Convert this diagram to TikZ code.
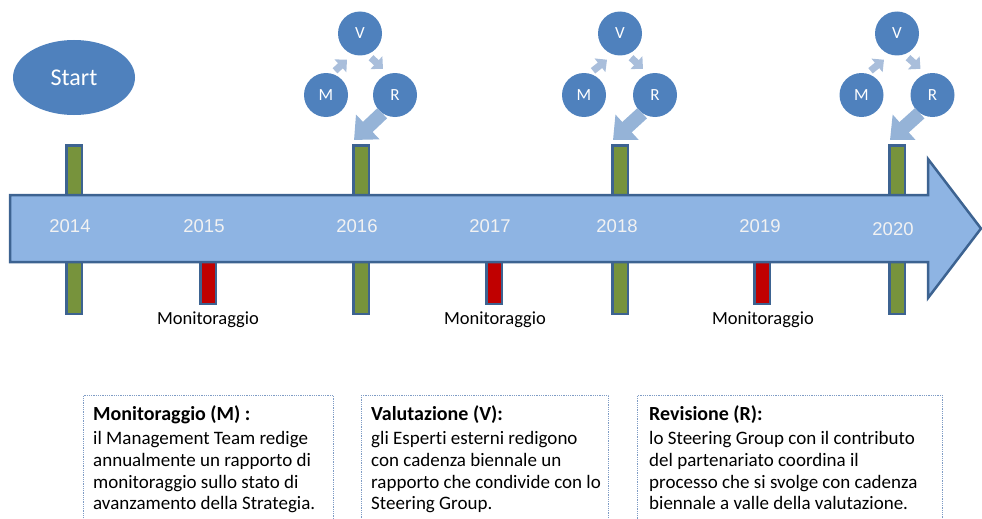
\documentclass[tikz,border=0pt]{standalone}
\usepackage{fontspec}
\setmainfont{Carlito}[Ligatures=CommonOff]
\newfontfamily\yearfont{Liberation Sans}
\usetikzlibrary{arrows.meta,shapes.geometric}

\definecolor{timeblue}{HTML}{8EB4E3}
\definecolor{edgeblue}{HTML}{3D6391}
\definecolor{circblue}{HTML}{4F81BD}
\definecolor{bargreen}{HTML}{77933C}
\definecolor{barred}{HTML}{C00000}
\definecolor{bigblue}{HTML}{95B3D7}
\definecolor{smallblue}{HTML}{A9BEDB}
\definecolor{boxedge}{HTML}{7F9CC5}

\newcommand{\boxhead}[1]{{\bfseries\fontsize{20}{22}\selectfont #1}}

\tikzset{
  greenbar/.style={draw=edgeblue, line width=2.5pt, fill=bargreen, minimum width=15.5pt, minimum height=168.5pt, inner sep=0pt},
  redbar/.style={draw=edgeblue, line width=2.5pt, fill=barred, minimum width=15.5pt, minimum height=62.5pt, inner sep=0pt},
  timearrow/.style={draw=edgeblue, line width=2.5pt, fill=timeblue, line join=miter},
  yearlabel/.style={text=white!95!black, anchor=base, inner sep=0pt, font=\yearfont\fontsize{18.5}{22}\selectfont},
  montext/.style={anchor=base, inner sep=0pt, font=\fontsize{18.5}{22}\selectfont},
  startnode/.style={ellipse, fill=circblue, text=white, minimum width=122pt, minimum height=75pt, font=\fontsize{24}{28}\selectfont},
  phase/.style={circle, fill=circblue, text=white, minimum size=44pt, inner sep=0pt, font=\fontsize{17}{20}\selectfont},
  smallarr/.style={smallblue, line width=7pt, -{Triangle[width=17pt,length=9pt]}},
  bigarr/.style={bigblue, line width=14pt, -{Triangle[width=33pt,length=19pt]}},
  infobox/.style={draw=boxedge, densely dotted, line width=0.8pt, anchor=north west, minimum height=140pt, inner sep=0pt},
  boxtext/.style={anchor=north west, align=left, inner sep=0pt, font=\fontsize{19}{21.7}\selectfont}
}

\begin{document}
\begin{tikzpicture}[x=1pt,y=-1pt]
        % Picture frame
        \clip (0,0) rectangle (982,519);
        % Start
        \node[startnode] (start) at (74,77.5) {Start};
        % Year bars, behind the time arrow
        \node[greenbar] (bar14) at (74,229.5) {};
        \node[redbar] (bar15) at (208,272.5) {};
        \node[greenbar] (bar16) at (361,229.5) {};
        \node[redbar] (bar17) at (494,272.5) {};
        \node[greenbar] (bar18) at (620,229.5) {};
        \node[redbar] (bar19) at (762,272.5) {};
        \node[greenbar] (bar20) at (897,229.5) {};
        % Time arrow
        \draw[timearrow] (10,195) -- (928,195) -- (928,159) -- (981,228.5)
          -- (928,298) -- (928,262) -- (10,262) -- cycle;
        % Years
        \node[yearlabel] (y14) at (70,232) {2014};
        \node[yearlabel] (y15) at (204,232) {2015};
        \node[yearlabel] (y16) at (357,232) {2016};
        \node[yearlabel] (y17) at (490,232) {2017};
        \node[yearlabel] (y18) at (617,232) {2018};
        \node[yearlabel] (y19) at (760,232) {2019};
        \node[yearlabel] (y20) at (893,235) {2020};
        % Monitoring under the red bars
        \node[montext] (mon15) at (208,324) {Monitoraggio};
        \node[montext] (mon17) at (495,324) {Monitoraggio};
        \node[montext] (mon19) at (763,324) {Monitoraggio};
        % Cycle 2016
        \node[phase] (Va) at (360,33.5) {V};
        \node[phase] (Ma) at (326,95) {M};
        \node[phase] (Ra) at (395,95) {R};
        \draw[smallarr] ([shift={(9,-2)}]Ma.north) -- ([shift={(-13,4)}]Va.south);
        \draw[smallarr] ([shift={(11,2)}]Va.south) -- ([shift={(-12,-4)}]Ra.north);
        \draw[bigarr] (Ra.235) -- ([shift={(-7,-4)}]bar16.north);
        % Cycle 2018
        \node[phase] (Vb) at (620,33.5) {V};
        \node[phase] (Mb) at (584,95) {M};
        \node[phase] (Rb) at (655,95) {R};
        \draw[smallarr] ([shift={(9,-2)}]Mb.north) -- ([shift={(-13,4)}]Vb.south);
        \draw[smallarr] ([shift={(11,2)}]Vb.south) -- ([shift={(-12,-4)}]Rb.north);
        \draw[bigarr] (Rb.235) -- ([shift={(-7,-4)}]bar18.north);
        % Cycle 2020
        \node[phase] (Vc) at (897,33.5) {V};
        \node[phase] (Mc) at (861.5,95) {M};
        \node[phase] (Rc) at (932.5,95) {R};
        \draw[smallarr] ([shift={(9,-2)}]Mc.north) -- ([shift={(-13,4)}]Vc.south);
        \draw[smallarr] ([shift={(11,2)}]Vc.south) -- ([shift={(-12,-4)}]Rc.north);
        \draw[bigarr] (Rc.235) -- ([shift={(-7,-4)}]bar20.north);
        % Legend boxes
        \node[infobox, minimum width=250pt] (boxM) at (83,395) {};
        \node[infobox, minimum width=247pt] (boxV) at (361,395) {};
        \node[infobox, minimum width=305pt] (boxR) at (637,395) {};
        \node[boxtext] (txtM) at ([shift={(10,10)}]boxM.north west)
          {\boxhead{Monitoraggio (M) :}\\[3pt] il Management Team redige\\ annualmente un rapporto di\\ monitoraggio sullo stato di\\ avanzamento della Strategia.};
        \node[boxtext] (txtV) at ([shift={(10,10)}]boxV.north west)
          {\boxhead{Valutazione (V):}\\[3pt] gli Esperti esterni redigono\\ con cadenza biennale un\\ rapporto che condivide con lo\\ Steering Group.};
        \node[boxtext] (txtR) at ([shift={(12,10)}]boxR.north west)
          {\boxhead{Revisione (R):}\\[3pt] lo Steering Group con il contributo\\ del partenariato coordina il\\ processo che si svolge con cadenza\\ biennale a valle della valutazione.};
\end{tikzpicture}
\end{document}
